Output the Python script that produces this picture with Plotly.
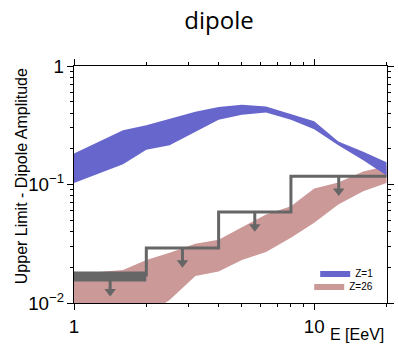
import numpy as np
import plotly.graph_objects as go

# ---- data ----
energy = [1, 1.6, 2, 2.5, 3.2, 4, 5, 6.3, 8, 10, 12.6, 16, 20]
z1_upper = [0.183, 0.287, 0.316, 0.356, 0.411, 0.451, 0.472, 0.455, 0.394, 0.342, 0.231, 0.189, 0.154]
z1_lower = [0.103, 0.148, 0.196, 0.214, 0.276, 0.352, 0.388, 0.405, 0.352, 0.292, 0.214, 0.160, 0.119]
z26_upper = [0.0176, 0.019, 0.0231, 0.0265, 0.0316, 0.0342, 0.0435, 0.0557, 0.0655, 0.0925, 0.104, 0.129, 0.143]
z26_lower = [0.006, 0.007, 0.0078, 0.0106, 0.0169, 0.0184, 0.0231, 0.027, 0.0356, 0.0476, 0.0677, 0.0877, 0.103]

bin_edges = [1, 2, 4, 8, 20]
upper_limits = [0.0167, 0.0291, 0.0587, 0.1175]

series_names = ["Z=1", "Z=26"]

# ---- style ----
BLUE = "rgb(102,102,204)"
ROSE = "rgb(204,153,153)"
GRAY = "rgb(102,102,102)"
FONT = "Arial, Liberation Sans, sans-serif"
ARROW_FACTOR = 0.75

fig = go.Figure()

def band(x, lo, hi, color, name, legend):
    return go.Scatter(
        x=list(x) + list(x)[::-1],
        y=list(hi) + list(lo)[::-1],
        fill="toself", fillcolor=color, mode="lines",
        line=dict(width=0, color=color), name=name, hoverinfo="skip", legend=legend,
    )

fig.add_trace(band(energy, z26_lower, z26_upper, ROSE, series_names[1], "legend2"))
fig.add_trace(band(energy, z1_lower, z1_upper, BLUE, series_names[0], "legend"))

# step line (first bin thick)
fig.add_trace(go.Scatter(x=[bin_edges[0], bin_edges[1]], y=[upper_limits[0]] * 2,
                         mode="lines", line=dict(color=GRAY, width=10), showlegend=False,
                         hoverinfo="skip"))
sx, sy = [], []
for i in range(1, len(upper_limits)):
    sx += [bin_edges[i], bin_edges[i], bin_edges[i + 1]]
    sy += [upper_limits[i - 1], upper_limits[i], upper_limits[i]]
fig.add_trace(go.Scatter(x=sx, y=sy, mode="lines", line=dict(color=GRAY, width=3),
                         showlegend=False, hoverinfo="skip"))

# arrows
centers = [np.sqrt(bin_edges[i] * bin_edges[i + 1]) for i in range(len(upper_limits))]
ax_, ay_ = [], []
for c, u in zip(centers, upper_limits):
    ax_ += [c, c, None]
    ay_ += [u, u * ARROW_FACTOR, None]
fig.add_trace(go.Scatter(x=ax_, y=ay_, mode="lines", line=dict(color=GRAY, width=3),
                         showlegend=False, hoverinfo="skip"))
fig.add_trace(go.Scatter(x=centers, y=[u * ARROW_FACTOR for u in upper_limits], mode="markers",
                         marker=dict(symbol="triangle-down", size=10, color=GRAY, line=dict(width=0)),
                         showlegend=False, hoverinfo="skip"))

axis_common = dict(
    type="log", showgrid=False, zeroline=False, showline=True, linecolor="black", linewidth=1,
    mirror="allticks", ticks="outside", ticklen=6, tickcolor="black", dtick=1,
    exponentformat="power", tickfont=dict(family=FONT, size=15, color="black"),
    minor=dict(ticks="outside", ticklen=3, tickcolor="black", dtick="D1", showgrid=False),
)
fig.update_xaxes(**axis_common, range=[0, np.log10(20) + 0.002], ticklabelstandoff=1)
fig.update_yaxes(**axis_common, range=[-2, 0])

legend_common = dict(x=1 - 9 / 320, xanchor="right", yanchor="middle", bgcolor="rgba(0,0,0,0)",
                     font=dict(family=FONT, size=10, color="black"), itemwidth=30)

fig.update_layout(
    width=398, height=345,
    margin=dict(l=74, r=4, t=66, b=42),
    paper_bgcolor="white", plot_bgcolor="white",
    title=dict(text="dipole", x=219 / 398, xanchor="center", y=1 - 21 / 345, yanchor="middle",
               font=dict(family="Open Sans, sans-serif", size=24, color="black")),
    showlegend=True,
    legend=dict(**legend_common, y=(303 - 273) / 237),
    legend2=dict(**legend_common, y=(303 - 286) / 237),
    annotations=[
        dict(text="Upper Limit - Dipole Amplitude", xref="paper", yref="paper",
             x=(20 - 74) / 320, y=(303 - 176) / 237, textangle=-90, showarrow=False,
             xanchor="center", yanchor="middle", font=dict(family=FONT, size=16, color="black")),
        dict(text="E [EeV]", xref="paper", yref="paper", x=(393 - 74) / 320, y=(303 - 344.5) / 237,
             xanchor="right", yanchor="bottom", showarrow=False,
             font=dict(family=FONT, size=16, color="black")),
    ],
)

fig.write_html("out.html")
